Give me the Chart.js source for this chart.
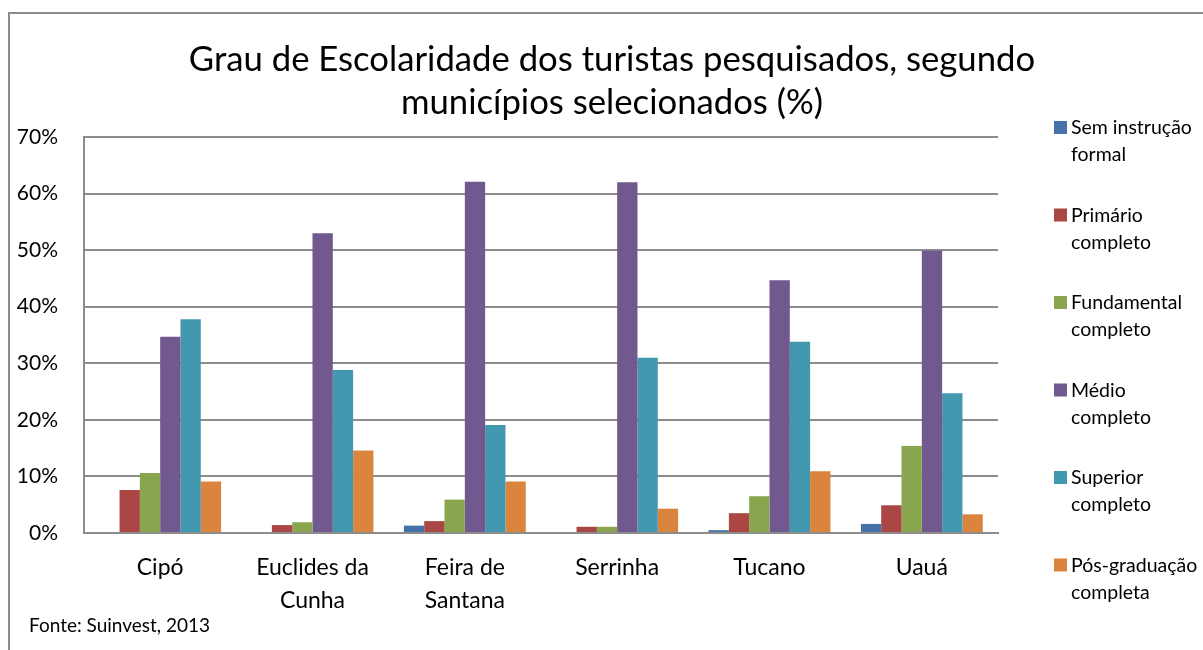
<!DOCTYPE html>
<html>
<head>
<meta charset="utf-8">
<script src="https://cdn.jsdelivr.net/npm/chart.js@4"></script>
<style>
  html, body { margin: 0; padding: 0; background: #fff; }
  #wrap { position: relative; width: 1203px; height: 650px; overflow: hidden; }
  #frame { position: absolute; left: 8px; top: 12px; width: 1300px; height: 700px;
           border-top: 2px solid #8c8c8c; border-left: 2px solid #8c8c8c; }
  #fonte { position: absolute; left: 29px; top: 613px; font: 19px Lato, sans-serif; color: #000; }
  canvas { position: absolute; left: 0; top: 0; }
</style>
</head>
<body>
<div id="wrap">
  <div id="frame"></div>
  <canvas id="grafico" width="1203" height="650"></canvas>
  <div id="fonte">Fonte: Suinvest, 2013</div>
</div>
<script>
// municipios e series (valores em %)
var municipios = [['Cipó'], ['Euclides da', 'Cunha'], ['Feira de', 'Santana'], ['Serrinha'], ['Tucano'], ['Uauá']];
var semInstrucao = [0, 0, 1.3, 0, 0.5, 1.6];
var primario = [7.6, 1.4, 2.1, 1.1, 3.5, 4.9];
var fundamental = [10.6, 1.9, 5.9, 1.1, 6.5, 15.4];
var medio = [34.7, 53.0, 62.1, 62.0, 44.7, 49.9];
var superior = [37.8, 28.8, 19.1, 31.0, 33.8, 24.7];
var posGraduacao = [9.1, 14.6, 9.1, 4.3, 10.9, 3.3];

var nomesSeries = [['Sem instrução', 'formal'], ['Primário', 'completo'], ['Fundamental', 'completo'],
                   ['Médio', 'completo'], ['Superior', 'completo'], ['Pós-graduação', 'completa']];
var cores = ['#4572A7', '#AA4643', '#89A54E', '#71588F', '#4198AF', '#DB843D'];
var series = [semInstrucao, primario, fundamental, medio, superior, posGraduacao];
var titulo = ['Grau de Escolaridade dos turistas pesquisados, segundo', 'municípios selecionados (%)'];

var fonte = 'Lato, sans-serif';

var datasets = series.map(function(valores, i) {
  return {
    label: nomesSeries[i].join(' '),
    data: valores,
    backgroundColor: cores[i],
    borderWidth: 0,
    categoryPercentage: 0.8,
    barPercentage: 1.0
  };
});

// titulo e legenda desenhados a mao (legenda com rotulos em duas linhas)
var extras = {
  id: 'extras',
  afterDraw: function(chart) {
    var ctx = chart.ctx;
    ctx.save();
    ctx.textBaseline = 'middle';
    ctx.fillStyle = '#000';
    ctx.font = '34.7px ' + fonte;
    ctx.textAlign = 'center';
    ctx.fillText(titulo[0], 612, 60);
    ctx.fillText(titulo[1], 612, 103);

    ctx.textAlign = 'left';
    ctx.font = '19.5px ' + fonte;
    for (var i = 0; i < nomesSeries.length; i++) {
      var y = 128 + i * 87.5;
      ctx.fillStyle = cores[i];
      ctx.fillRect(1054, y - 7, 13, 13);
      ctx.fillStyle = '#000';
      ctx.fillText(nomesSeries[i][0], 1071, y);
      ctx.fillText(nomesSeries[i][1], 1071, y + 27);
    }
    ctx.restore();
  }
};

var ctx = document.getElementById('grafico').getContext('2d');
var grafico = new Chart(ctx, {
  type: 'bar',
  data: { labels: municipios, datasets: datasets },
  options: {
    responsive: false,
    animation: false,
    layout: { padding: { top: 137, right: 205, bottom: 0, left: 0 } },
    plugins: {
      legend: { display: false },
      tooltip: { enabled: false },
      title: { display: false }
    },
    scales: {
      x: {
        grid: { display: false, drawTicks: false },
        border: { display: true, color: '#8c8c8c', width: 2 },
        ticks: {
          color: '#000',
          font: { family: fonte, size: 23, lineHeight: 1.43 },
          padding: 18,
          maxRotation: 0,
          autoSkip: false
        },
        afterFit: function(scale) { scale.height = 117; }
      },
      y: {
        min: 0,
        max: 70,
        grid: { color: '#8c8c8c', lineWidth: 2, drawTicks: false },
        border: { display: true, color: '#8c8c8c', width: 2 },
        ticks: {
          stepSize: 10,
          color: '#000',
          font: { family: fonte, size: 21 },
          padding: 26,
          callback: function(v) { return v + '%'; }
        },
        afterFit: function(scale) { scale.width = 84; }
      }
    }
  },
  plugins: [extras]
});
</script>
</body>
</html>
